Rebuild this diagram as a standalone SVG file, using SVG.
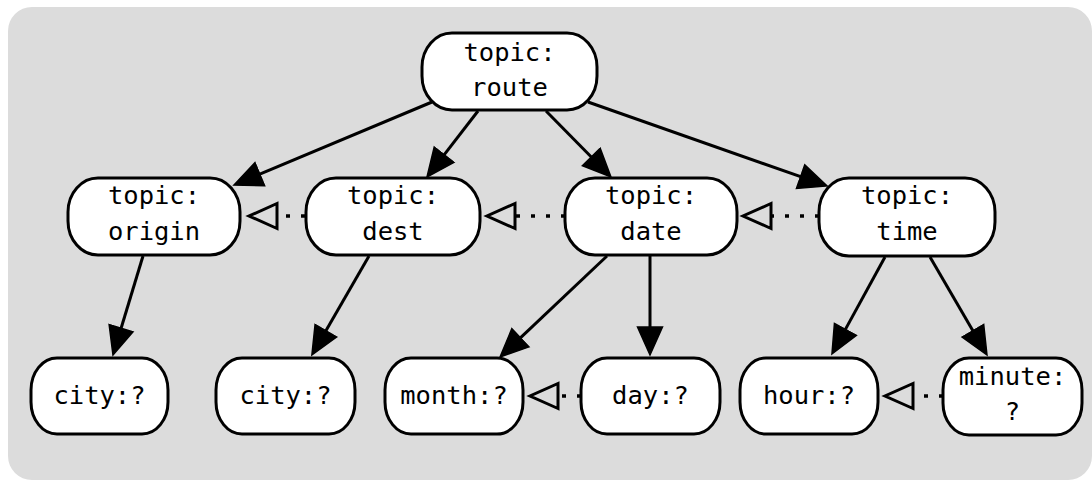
<svg xmlns="http://www.w3.org/2000/svg" width="1092" height="483" viewBox="0 0 1092 483">
  <style>
    .node rect { fill: #ffffff; stroke: #000000; stroke-width: 3; }
    .node text { font-family: "DejaVu Sans Mono", "Liberation Mono", monospace; font-size: 25.5px; fill: #000000; text-anchor: middle; }
    .edge { fill: none; stroke: #000000; stroke-width: 3; }
    .dotted { fill: none; stroke: #000000; stroke-width: 3.5; stroke-dasharray: 4 11; }
  </style>
  <defs>
    <!-- filled arrowhead: the line ends at the base, the tip lies 28 units further -->
    <marker id="head" markerUnits="userSpaceOnUse" viewBox="0 0 32 29" markerWidth="32" markerHeight="29" refX="1" refY="14.5" orient="auto">
      <path d="M1,2 L29,14.5 L1,27 Z" fill="#000000" stroke="#000000" stroke-width="1.5" stroke-linejoin="miter"/>
    </marker>
    <!-- hollow arrowhead for the dotted links -->
    <marker id="hollow" markerUnits="userSpaceOnUse" viewBox="0 0 34 32" markerWidth="34" markerHeight="32" refX="2" refY="16" orient="auto">
      <path d="M2,3.5 L30,16 L2,28.5 Z" fill="none" stroke="#000000" stroke-width="3" stroke-linejoin="miter"/>
    </marker>
  </defs>

  <!-- panel -->
  <rect x="8" y="7" width="1084" height="473" rx="24" ry="24" fill="#dcdcdc"/>

  <g id="connectors">
    <!-- parent to child -->
    <path class="edge" d="M432,102 L259.8,174.2" marker-end="url(#head)"/>
    <path class="edge" d="M478,111 L444.1,154.8" marker-end="url(#head)"/>
    <path class="edge" d="M546,111 L591.3,157" marker-end="url(#head)"/>
    <path class="edge" d="M588,102 L800.6,176.7" marker-end="url(#head)"/>
    <path class="edge" d="M143,256 L121.1,328.2" marker-end="url(#head)"/>
    <path class="edge" d="M369,256 L325.9,330.7" marker-end="url(#head)"/>
    <path class="edge" d="M607,256 L520.4,337.8" marker-end="url(#head)"/>
    <path class="edge" d="M650,256 L650,327" marker-end="url(#head)"/>
    <path class="edge" d="M885,257 L845.4,329.4" marker-end="url(#head)"/>
    <path class="edge" d="M930,257 L972.9,330.8" marker-end="url(#head)"/>
    <!-- sibling order links -->
    <path class="dotted" d="M305,216 L277,216" marker-end="url(#hollow)"/>
    <path class="dotted" d="M565,216 L515,216" marker-end="url(#hollow)"/>
    <path class="dotted" d="M819,216 L771,216" marker-end="url(#hollow)"/>
    <path class="dotted" d="M581,396 L558,396" marker-end="url(#hollow)"/>
    <path class="dotted" d="M943,396 L913,396" marker-end="url(#hollow)"/>
  </g>

  <g id="route" class="node">
    <rect x="422" y="33" width="175" height="77" rx="30" ry="34"/>
    <text x="509.5" y="61">topic:</text>
    <text x="509.5" y="96">route</text>
  </g>
  <g id="origin" class="node">
    <rect x="68" y="178" width="172" height="77" rx="30" ry="34"/>
    <text x="154" y="204">topic:</text>
    <text x="154" y="240">origin</text>
  </g>
  <g id="dest" class="node">
    <rect x="306" y="178" width="174" height="77" rx="30" ry="34"/>
    <text x="393" y="204">topic:</text>
    <text x="393" y="240">dest</text>
  </g>
  <g id="date" class="node">
    <rect x="565" y="178" width="172" height="77" rx="30" ry="34"/>
    <text x="651" y="204">topic:</text>
    <text x="651" y="240">date</text>
  </g>
  <g id="time" class="node">
    <rect x="819" y="178" width="176" height="78" rx="30" ry="34"/>
    <text x="907" y="204">topic:</text>
    <text x="907" y="240">time</text>
  </g>
  <g id="origin-city" class="node">
    <rect x="31" y="358" width="137" height="76" rx="26" ry="32"/>
    <text x="99.5" y="404">city:?</text>
  </g>
  <g id="dest-city" class="node">
    <rect x="216" y="358" width="139" height="76" rx="26" ry="32"/>
    <text x="285.5" y="404">city:?</text>
  </g>
  <g id="month" class="node">
    <rect x="385" y="358" width="138" height="76" rx="26" ry="32"/>
    <text x="454" y="404">month:?</text>
  </g>
  <g id="day" class="node">
    <rect x="581" y="358" width="139" height="76" rx="26" ry="32"/>
    <text x="650.5" y="404">day:?</text>
  </g>
  <g id="hour" class="node">
    <rect x="740" y="358" width="138" height="76" rx="26" ry="32"/>
    <text x="809" y="404">hour:?</text>
  </g>
  <g id="minute" class="node">
    <rect x="943" y="358" width="139" height="77" rx="26" ry="32"/>
    <text x="1012.5" y="385">minute:</text>
    <text x="1012.5" y="420">?</text>
  </g>
</svg>
